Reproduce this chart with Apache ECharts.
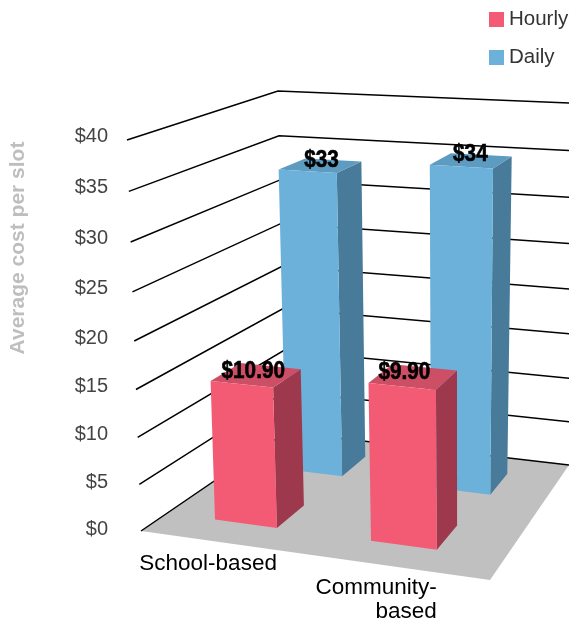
<!DOCTYPE html>
<html><head><meta charset="utf-8">
<style>html,body{margin:0;padding:0;background:#fff}#c{width:569px;height:621px}</style>
<script src="https://cdn.jsdelivr.net/npm/echarts@6/dist/echarts.min.js"></script>
</head><body><div id="c"></div>
<script>
// ---- data ----
const categories = ['School-based', 'Community-\nbased'];
const categoryIndex = [0, 1];
const yTicks = [0, 5, 10, 15, 20, 25, 30, 35, 40];
const yTickLabels = ['$0', '$5', '$10', '$15', '$20', '$25', '$30', '$35', '$40'];
const hourlyPrinted = [10.90, 9.90];
const dailyPrinted = [33, 34];
// bar tops as read against the wall gridlines (the drawing is not to the printed scale)
const hourlyDrawnLevel = [14.9, 16.4];
const dailyDrawnLevel = [33.6, 35.0];
const yAxisTitle = 'Average cost per slot';

// ---- scene camera: floor and top planes of the 3D box ----
const floorCorners = [[141, 531], [490, 580], [569, 465], [286, 432]];
const topCorners = [[127, 140], [491, 161], [580, 103.5], [278, 91]];
const rise = 1.058;
function homography(q) {
  const [A, B, C, D] = q;
  const dx1 = B[0] - C[0], dx2 = D[0] - C[0], sx = A[0] - B[0] + C[0] - D[0];
  const dy1 = B[1] - C[1], dy2 = D[1] - C[1], sy = A[1] - B[1] + C[1] - D[1];
  const det = dx1 * dy2 - dx2 * dy1;
  const g = (sx * dy2 - dx2 * sy) / det, h = (dx1 * sy - sx * dy1) / det;
  const a = B[0] - A[0] + g * B[0], b = D[0] - A[0] + h * D[0];
  const d = B[1] - A[1] + g * B[1], e = D[1] - A[1] + h * D[1];
  return (u, w) => {
    const W = 1 + g * u + h * w;
    return [(a * u + b * w + A[0]) / W, (d * u + e * w + A[1]) / W];
  };
}
const floorH = homography(floorCorners), topH = homography(topCorners);
// u along the front, t = 0..1 share of axis height, w into the depth
function project(u, t, w) {
  const s = t / (t + (1 - t) * rise);
  const p0 = floorH(u, w), p1 = topH(u, w);
  return [p0[0] + (p1[0] - p0[0]) * s, p0[1] + (p1[1] - p0[1]) * s];
}

// ---- layout of the bars in floor space ----
const GRID = { left: 100, right: 100, top: 100, bottom: 100 };
const hourlyLayout = { u0: 0.150, uStep: 0.470, du: 0.190, w0: 0.150, w1: 0.345, nudge: [[-3, -4], [-9, -4]],
  front: '#F35B74', side: '#9E384C', top: '#CC4F66' };
const dailyLayout = { u0: 0.160, uStep: 0.482, du: 0.190, w0: 0.630, w1: 0.840, nudge: [[1, -5], [-1, -6]],
  front: '#6CB1DA', side: '#487A99', top: '#5E9BC1' };
const categoryLabelDrop = [24, 26];

function barRenderer(layout, withCategoryLabel) {
  return function (params, api) {
    const cat = api.value(0), printed = api.value(1), level = api.value(2);
    const rect = params.coordSys;
    const bottomY = api.coord([cat, 0])[1];
    const t = (bottomY - api.coord([cat, level])[1]) / rect.height;
    const bandFrac = (api.coord([cat, 0])[0] - rect.x) / rect.width; // 0.25 or 0.75
    const u0 = layout.u0 + (bandFrac - 0.25) * 2 * layout.uStep, u1 = u0 + layout.du;
    const FLb = project(u0, 0, layout.w0), FRb = project(u1, 0, layout.w0), BRb = project(u1, 0, layout.w1);
    const FLt = project(u0, t, layout.w0), FRt = project(u1, t, layout.w0), BRt = project(u1, t, layout.w1), BLt = project(u0, t, layout.w1);
    const text = '$' + (printed % 1 ? printed.toFixed(2) : String(printed));
    const nudge = layout.nudge[cat];
    const cx = (FLt[0] + FRt[0] + BRt[0] + BLt[0]) / 4 + nudge[0];
    const cy = (FLt[1] + FRt[1] + BRt[1] + BLt[1]) / 4 + nudge[1];
    const poly = (pts, fill) => ({ type: 'polygon', shape: { points: pts }, style: { fill: fill } });
    const children = [
      poly([FRb, BRb, BRt, FRt], layout.side),
      poly([FLt, FRt, BRt, BLt], layout.top),
      poly([FLb, FRb, FRt, FLt], layout.front),
      { type: 'text', z2: 100, x: cx, y: cy, scaleX: 0.9, style: { x: 0, y: 0, text: text, align: 'center', verticalAlign: 'middle',
        fill: '#000', stroke: '#000', lineWidth: 0.6,
        font: 'bold 23px "Liberation Sans",sans-serif' } }
    ];
    if (withCategoryLabel) {
      children.push({ type: 'text', style: { x: FRb[0], y: FRb[1] + categoryLabelDrop[cat], text: categories[cat], align: 'right', verticalAlign: 'top',
        fill: '#000', lineHeight: 24, font: '22.5px "Liberation Sans",sans-serif' } });
    }
    return { type: 'group', children: children };
  };
}

function wallRenderer(params, api) {
  const v = api.value(1);
  const rect = params.coordSys;
  const t = (api.coord([0, 0])[1] - api.coord([0, v])[1]) / rect.height;
  const a = project(0, t, 0), b = project(0, t, 1), c = project(1, t, 1);
  const idx = params.dataIndex;
  return { type: 'group', children: [
    { type: 'polyline', shape: { points: [a, b, c] }, style: { fill: 'none', stroke: '#000', lineWidth: 1.5 } },
    { type: 'text', style: { x: 108, y: a[1] - 2 - (v / 40) * 2, text: yTickLabels[idx], align: 'right', verticalAlign: 'middle',
      fill: '#444', font: '20px "Liberation Sans",sans-serif' } }
  ] };
}
function floorRenderer() {
  return { type: 'polygon', shape: { points: [project(0,0,0), project(1,0,0), project(1,0,1), project(0,0,1)] }, style: { fill: '#C0C0C0' } };
}

const chart = echarts.init(document.getElementById('c'), null, { renderer: 'canvas' });
chart.setOption({
  animation: false,
  backgroundColor: '#fff',
  grid: GRID,
  xAxis: { type: 'category', data: categories, show: false },
  yAxis: { type: 'value', min: 0, max: 40, interval: 5, show: false },
  legend: { data: ['Hourly', 'Daily'], orient: 'vertical', left: 489, top: 9, padding: 0, itemWidth: 15, itemHeight: 15, itemGap: 17,
    icon: 'rect', selectedMode: false, textStyle: { fontSize: 20.5, color: '#333', fontFamily: '"Liberation Sans",sans-serif', padding: [2, 0, 0, 0] } },
  graphic: [{ type: 'text', rotation: Math.PI / 2, x: 18, y: 248, z: 10,
    style: { text: yAxisTitle, align: 'center', verticalAlign: 'middle', fill: '#BEBEBE', font: 'bold 21px "Liberation Sans",sans-serif' } }],
  series: [
    { type: 'custom', name: 'floor', z: 1, renderItem: floorRenderer, data: [[0, 0]], silent: true },
    { type: 'custom', name: 'walls', z: 2, renderItem: wallRenderer, data: yTicks.map(v => [0, v]), silent: true },
    { type: 'custom', name: 'Daily', z: 3, renderItem: barRenderer(dailyLayout, false), itemStyle: { color: dailyLayout.front },
      data: categoryIndex.map(i => [i, dailyPrinted[i], dailyDrawnLevel[i]]), encode: { x: 0, y: 2 } },
    { type: 'custom', name: 'Hourly', z: 4, renderItem: barRenderer(hourlyLayout, true), itemStyle: { color: hourlyLayout.front },
      data: categoryIndex.map(i => [i, hourlyPrinted[i], hourlyDrawnLevel[i]]), encode: { x: 0, y: 2 } }
  ]
});
</script></body></html>
